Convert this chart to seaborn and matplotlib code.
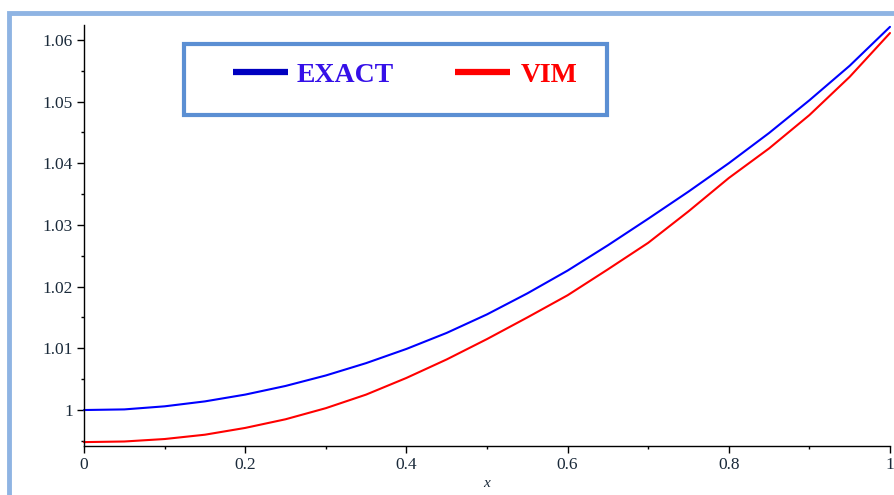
import numpy as np
import pandas as pd
import matplotlib
matplotlib.use("Agg")
import matplotlib.pyplot as plt
import seaborn as sns
from matplotlib.patches import Rectangle
from matplotlib.lines import Line2D

# ---- data ----
x_vals = [0.00, 0.05, 0.10, 0.15, 0.20, 0.25, 0.30, 0.35, 0.40, 0.45, 0.50,
          0.55, 0.60, 0.65, 0.70, 0.75, 0.80, 0.85, 0.90, 0.95, 1.00]
exact_vals = [1.0000, 1.0001, 1.0006, 1.0014, 1.0025, 1.0039, 1.0056, 1.0076,
              1.0099, 1.0125, 1.0155, 1.0189, 1.0226, 1.0267, 1.0310, 1.0354,
              1.0400, 1.0449, 1.0502, 1.0558, 1.0621]
vim_vals = [0.9948, 0.9949, 0.9953, 0.9960, 0.9971, 0.9985, 1.0003, 1.0025,
            1.0052, 1.0082, 1.0115, 1.0150, 1.0186, 1.0228, 1.0271, 1.0322,
            1.0376, 1.0424, 1.0478, 1.0540, 1.0611]
series_names = ["EXACT", "VIM"]
x_ticks = [0, 0.2, 0.4, 0.6, 0.8, 1]
x_tick_labels = ["0", "0.2", "0.4", "0.6", "0.8", "1"]
y_ticks = [1.00, 1.01, 1.02, 1.03, 1.04, 1.05, 1.06]
y_tick_labels = ["1", "1.01", "1.02", "1.03", "1.04", "1.05", "1.06"]

df = pd.DataFrame({
    "x": x_vals * 2,
    "y": exact_vals + vim_vals,
    "series": [series_names[0]] * len(x_vals) + [series_names[1]] * len(x_vals),
})

sns.set_theme(style="white")
plt.rcParams["font.family"] = ["Liberation Serif", "DejaVu Serif"]

W, H = 895, 495
fig = plt.figure(figsize=(W / 100, H / 100), dpi=100)
fig.patch.set_facecolor("white")

def fx(px):
    return px / W

def fy(py):
    return 1 - py / H

ax = fig.add_axes([fx(84), fy(446), fx(890) - fx(84), fy(25) - fy(446)])
sns.lineplot(data=df, x="x", y="y", hue="series",
             palette={"EXACT": "#0000ff", "VIM": "#ff0000"},
             linewidth=1.5, legend=False, ax=ax, clip_on=False)

ax.set_xlim(0, 1)
ax.set_ylim(0.99417, 1.0624)
for s in ["top", "right"]:
    ax.spines[s].set_visible(False)
for s in ["left", "bottom"]:
    ax.spines[s].set_color("black")
    ax.spines[s].set_linewidth(1.0)

ax.set_xticks(x_ticks)
ax.set_xticklabels(x_tick_labels)
ax.set_yticks(y_ticks)
ax.set_yticklabels(y_tick_labels)
ax.set_xticks([0.1, 0.3, 0.5, 0.7, 0.9], minor=True)
ax.set_yticks([0.995, 1.005, 1.015, 1.025, 1.035, 1.045, 1.055], minor=True)
ax.tick_params(axis="both", which="major", direction="out", length=5,
               width=1.0, color="black", labelsize=12.5, labelcolor="#1a2a3a", pad=3,
               left=True, bottom=True)
ax.tick_params(axis="both", which="minor", direction="out", length=2.5,
               width=1.0, color="black", left=True, bottom=True)
ax.set_xlabel("x", fontsize=11, style="italic", labelpad=3, color="#1a2a3a")
ax.set_ylabel("")
ax.grid(False)

# outer light-blue frame
fig.add_artist(Rectangle((fx(9.5), -0.05), 1.2, fy(13) + 0.05,
                         transform=fig.transFigure, fill=False,
                         edgecolor="#8fb4e3", linewidth=3.5))

# legend box
fig.add_artist(Rectangle((fx(184), fy(115)), fx(607) - fx(184), fy(44) - fy(115),
                         transform=fig.transFigure, facecolor="white",
                         edgecolor="#5b8fd3", linewidth=3))
fig.add_artist(Line2D([fx(233), fx(288)], [fy(72), fy(72)],
                      transform=fig.transFigure, color="#0000c0", linewidth=4.5,
                      solid_capstyle="butt"))
fig.add_artist(Line2D([fx(455), fx(510)], [fy(72), fy(72)],
                      transform=fig.transFigure, color="#ff0000", linewidth=4.5,
                      solid_capstyle="butt"))
fig.text(fx(297), fy(75), series_names[0], fontsize=20, fontweight="bold",
         color="#3510e8", va="center", ha="left")
fig.text(fx(521), fy(75), series_names[1], fontsize=20, fontweight="bold",
         color="#ff0000", va="center", ha="left")

fig.savefig("out.png", dpi=100)
